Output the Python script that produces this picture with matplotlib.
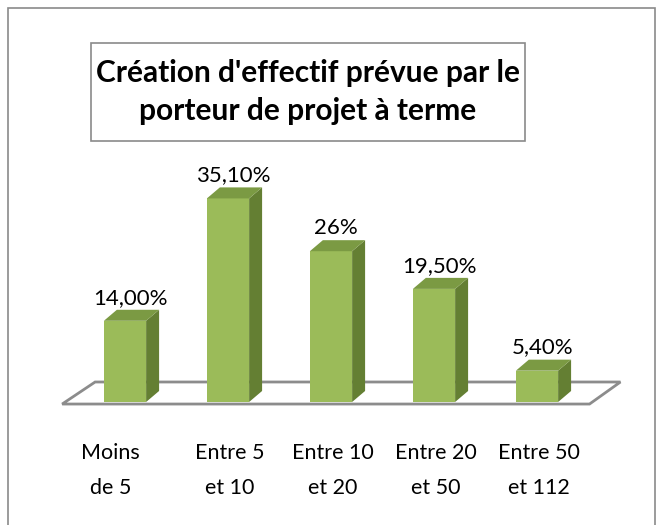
import numpy as np
import matplotlib.pyplot as plt
from matplotlib.patches import Polygon, Rectangle

# --- data ---
categories = ["Moins\nde 5", "Entre 5\net 10", "Entre 10\net 20", "Entre 20\net 50", "Entre 50\net 112"]
values = [14.0, 35.1, 26.0, 19.5, 5.4]
value_labels = ["14,00%", "35,10%", "26%", "19,50%", "5,40%"]
title = "Création d'effectif prévue par le\nporteur de projet à terme"

W, H = 662, 525
fig = plt.figure(figsize=(W / 100, H / 100), dpi=100)
plt.rcParams['font.family'] = ['Lato', 'DejaVu Sans']

# outer frame
fig.patches.append(Rectangle((8 / W, -0.02), 647 / W, 1.02 - 8 / H, transform=fig.transFigure,
                             fill=False, edgecolor='#8a8a8a', linewidth=1.2))

# axes placed so that category spacing ~103 px, 5.8 px per percent
x0, x1 = -0.7, 4.7
y0, y1 = -5, 62
left = (125 + x0 * 103) / W
right = (125 + x1 * 103) / W
bottom = 1 - (402 - y0 * 5.8) / H
top = 1 - (402 - y1 * 5.8) / H
ax = fig.add_axes([left, bottom, right - left, top - bottom])
ax.set_xlim(x0, x1)
ax.set_ylim(y0, y1)
ax.axis('off')

# depth offsets (data units)
dx, dy = 0.126, 1.9
bw = 0.41

# floor
floor = Polygon([(-0.61, -0.35), (4.51, -0.35), (4.81, 3.45), (-0.29, 3.45)],
                closed=True, facecolor='white', edgecolor='#8c8c8c', linewidth=2, zorder=1,
                clip_on=False)
ax.add_patch(floor)

x = np.arange(len(values))
for xi, v, lab in zip(x, values, value_labels):
    l, r = xi - bw / 2, xi + bw / 2
    # front face
    ax.add_patch(Polygon([(l, 0), (r, 0), (r, v), (l, v)], facecolor='#9bbb59', edgecolor='none', zorder=3))
    # side face
    ax.add_patch(Polygon([(r, 0), (r + dx, dy), (r + dx, v + dy), (r, v)],
                         facecolor='#647f33', edgecolor='none', zorder=3))
    # top face
    ax.add_patch(Polygon([(l, v), (r, v), (r + dx, v + dy), (l + dx, v + dy)],
                         facecolor='#7b9a43', edgecolor='none', zorder=3))
    ax.text(xi + 0.05, v + 4.0, lab, ha='center', va='center', fontsize=16, color='black')

# category labels
for xi, c in zip(x, categories):
    off = -0.14 if xi == 0 else 0.02
    ax.text(xi + off, -11.8, c, ha='center', va='center', fontsize=15.5,
            linespacing=1.9, color='black', clip_on=False)

# title in box
fig.patches.append(Rectangle((91 / W, 1 - 141 / H), 434 / W, 98 / H, transform=fig.transFigure,
                             facecolor='white', edgecolor='#8a8a8a', linewidth=1.2))
fig.text(308 / W, 1 - 92 / H, title, ha='center', va='center', fontsize=21.5, fontweight='bold',
         linespacing=1.42)

fig.savefig('out.png', dpi=100)
